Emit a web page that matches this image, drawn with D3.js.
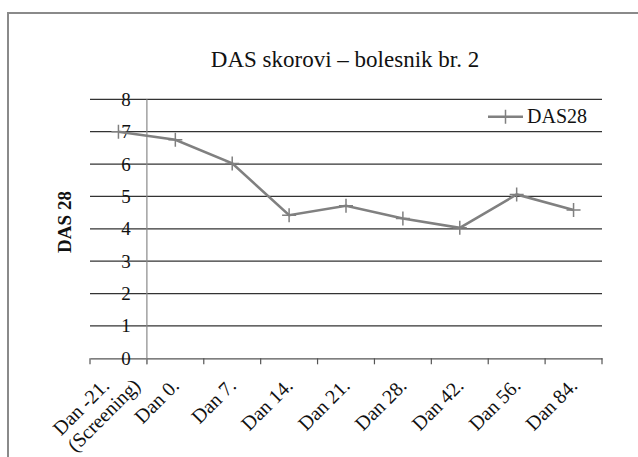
<!DOCTYPE html>
<html>
<head>
<meta charset="utf-8">
<script src="https://cdn.jsdelivr.net/npm/d3@7"></script>
<style>
  body { margin: 0; background: #fff; }
  svg text { font-family: "Liberation Serif", "Times New Roman", serif; fill: #111; }
</style>
</head>
<body>
<div id="area"></div>
<script>
var categories = ['Dan -21.|(Screening)', 'Dan 0.', 'Dan 7.', 'Dan 14.', 'Dan 21.', 'Dan 28.', 'Dan 42.', 'Dan 56.', 'Dan 84.'];
var das28 = [7.0, 6.75, 6.02, 4.42, 4.71, 4.32, 4.03, 5.06, 4.58];
var yTicks = [0, 1, 2, 3, 4, 5, 6, 7, 8];

var width = 638, height = 457;
var line_color = '#808080',
    grid_color = '#333';

var svg = d3.select('#area').append('svg')
    .attr('width', width)
    .attr('height', height);

svg.append('rect').attr('width', width).attr('height', height).attr('fill', '#fff');

// outer frame (runs off the right and bottom edge)
svg.append('rect')
    .attr('x', 8).attr('y', 13)
    .attr('width', 650).attr('height', 470)
    .attr('fill', 'none')
    .attr('stroke', '#8a8a8a')
    .attr('stroke-width', 2);

var x = d3.scaleBand().domain(categories).range([90, 602]);
var y = d3.scaleLinear().domain([0, 8]).range([358.3, 99.3]);

// gridlines
svg.append('g').selectAll('line')
  .data(yTicks.filter(function(d) { return d > 0; }))
  .enter().append('line')
    .attr('x1', 90).attr('x2', 602)
    .attr('y1', function(d) { return y(d); })
    .attr('y2', function(d) { return y(d); })
    .attr('stroke', grid_color)
    .attr('stroke-width', 1.2);

// category axis with tick marks between categories
var xAxis = d3.axisBottom(x).tickSize(0).tickFormat('');
svg.append('g').attr('transform', 'translate(0,' + y(0) + ')').call(xAxis)
    .select('.domain').attr('stroke', '#555').attr('stroke-width', 1.2);

var bounds = categories.map(function(c) { return x(c); }).concat([x.range()[1]]);
svg.append('g').selectAll('line')
  .data(bounds)
  .enter().append('line')
    .attr('x1', function(d) { return d; }).attr('x2', function(d) { return d; })
    .attr('y1', y(0)).attr('y2', y(0) + 6)
    .attr('stroke', '#555').attr('stroke-width', 1.2);

// value axis crosses between first and second category
var axisX = x(categories[1]);
svg.append('line')
    .attr('x1', axisX).attr('x2', axisX)
    .attr('y1', y(8)).attr('y2', y(0) + 6)
    .attr('stroke', '#8a8a8a').attr('stroke-width', 1.2);

svg.append('g').selectAll('text')
  .data(yTicks)
  .enter().append('text')
    .attr('x', 126)
    .attr('y', function(d) { return y(d); })
    .attr('dy', '0.34em')
    .attr('text-anchor', 'middle')
    .attr('font-size', 19)
    .text(function(d) { return d; });

// rotated category labels
var labels = svg.append('g');
categories.forEach(function(c) {
  var cx = x(c) + x.bandwidth() / 2;
  var parts = c.split('|');
  if (parts.length > 1) {
    labels.append('text')
      .attr('transform', 'translate(' + (cx - 8) + ',387) rotate(-45)')
      .attr('text-anchor', 'end').attr('font-size', 20).text(parts[0]);
    labels.append('text')
      .attr('transform', 'translate(' + (cx + 23) + ',387) rotate(-45)')
      .attr('text-anchor', 'end').attr('font-size', 20).text(parts[1]);
  } else {
    labels.append('text')
      .attr('transform', 'translate(' + (cx + 5) + ',387) rotate(-45)')
      .attr('text-anchor', 'end').attr('font-size', 20).text(c);
  }
});

// series
var cxOf = function(i) { return x(categories[i]) + x.bandwidth() / 2; };
var line = d3.line()
    .x(function(d, i) { return cxOf(i); })
    .y(function(d) { return y(d); });

svg.append('path')
    .datum(das28)
    .attr('d', line)
    .attr('fill', 'none')
    .attr('stroke', line_color)
    .attr('stroke-width', 2.6);

function drawPlus(g, px, py) {
  g.append('path')
    .attr('d', 'M' + (px - 7) + ',' + py + 'H' + (px + 7) + 'M' + px + ',' + (py - 7) + 'V' + (py + 7))
    .attr('stroke', line_color)
    .attr('stroke-width', 1.5)
    .attr('fill', 'none');
}
var marks = svg.append('g');
das28.forEach(function(d, i) { drawPlus(marks, cxOf(i), y(d)); });

// legend
var legend = svg.append('g');
legend.append('line')
    .attr('x1', 488).attr('x2', 523).attr('y1', 116.7).attr('y2', 116.7)
    .attr('stroke', line_color).attr('stroke-width', 2.6);
drawPlus(legend, 505.5, 116.7);
legend.append('text')
    .attr('x', 527).attr('y', 123.3)
    .attr('font-size', 20)
    .text('DAS28');

// title
svg.append('text')
    .attr('x', 345).attr('y', 67)
    .attr('text-anchor', 'middle')
    .attr('font-size', 23)
    .text('DAS skorovi – bolesnik br. 2');

// axis title
svg.append('text')
    .attr('transform', 'translate(71,222) rotate(-90)')
    .attr('text-anchor', 'middle')
    .attr('font-size', 19)
    .attr('font-weight', 'bold')
    .text('DAS 28');
</script>
</body>
</html>
